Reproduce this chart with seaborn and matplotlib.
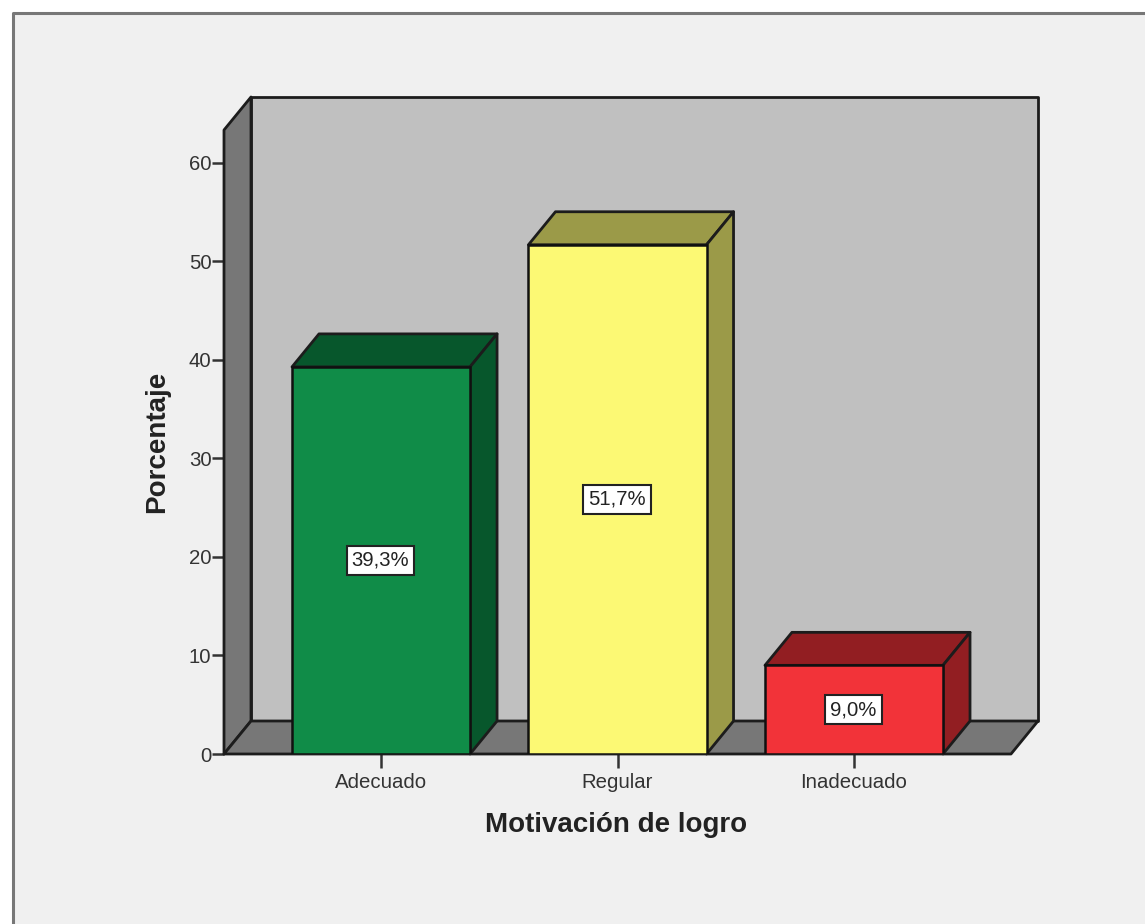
import pandas as pd
import matplotlib.pyplot as plt
import seaborn as sns
from matplotlib.patches import Polygon, Rectangle

# datos
categorias = ["Adecuado", "Regular", "Inadecuado"]
porcentajes = [39.3, 51.7, 9.0]
etiquetas = ["39,3%", "51,7%", "9,0%"]
colores = ["#108c48", "#fcf974", "#f23339"]
colores_lado = ["#07572c", "#9b9a48", "#921e22"]
yticks = [0, 10, 20, 30, 40, 50, 60]

W, H = 1145, 924
LEFT, RIGHT, BOTTOM, TOP = 224, 1011, 754, 130   # plano frontal en pixeles
DX, DY = 27, 33   # profundidad 3D en pixeles
FONDO = "#f0f0f0"
LINEA = "#1c1c1c"

sns.set_theme(style="white")
plt.rcParams['font.family'] = ['Liberation Sans', 'DejaVu Sans']

fig = plt.figure(figsize=(W / 100, H / 100), dpi=100, facecolor="white")

# marco de la ventana
fig.add_artist(Rectangle((12.5 / W, 0), (W - 12.5) / W, 1 - 12.5 / H, transform=fig.transFigure,
                         facecolor=FONDO, edgecolor="none", zorder=-10))
fig.add_artist(plt.Line2D([12.5 / W, 12.5 / W, 1], [0, 1 - 12.5 / H, 1 - 12.5 / H],
                          color="#777777", lw=2.2, solid_joinstyle="round"))

ax = fig.add_axes([LEFT / W, 1 - BOTTOM / H, (RIGHT - LEFT) / W, (BOTTOM - TOP) / H])
ax.patch.set_alpha(0)

df = pd.DataFrame({"categoria": categorias, "porcentaje": porcentajes})
sns.barplot(data=df, x="categoria", y="porcentaje", hue="categoria", palette=colores,
            dodge=False, legend=False, width=0.753, saturation=1,
            edgecolor="#101010", linewidth=1.8, zorder=5, ax=ax)

ax.set_xlim(-0.664, 2.664)
ax.set_ylim(0, 63.35)
px_x = (RIGHT - LEFT) / (ax.get_xlim()[1] - ax.get_xlim()[0])
px_y = (BOTTOM - TOP) / ax.get_ylim()[1]
dx, dy = DX / px_x, DY / px_y
x0, x1 = ax.get_xlim()
y0, y1 = ax.get_ylim()


def cara(puntos, color, z):
    ax.add_patch(Polygon(puntos, closed=True, facecolor=color, edgecolor=LINEA, linewidth=2.0,
                         joinstyle="round", clip_on=False, zorder=z))


# paredes y suelo
cara([(x0 + dx, y0 + dy), (x1 + dx, y0 + dy), (x1 + dx, y1 + dy), (x0 + dx, y1 + dy)], "#c0c0c0", 1)
cara([(x0, y0), (x0 + dx, y0 + dy), (x0 + dx, y1 + dy), (x0, y1)], "#777777", 2)
cara([(x0, y0), (x1, y0), (x1 + dx, y0 + dy), (x0 + dx, y0 + dy)], "#777777", 2)

# caras superior y lateral de las barras
for barra, c_lado, texto in zip(ax.patches, colores_lado, etiquetas):
    a = barra.get_x()
    b = a + barra.get_width()
    h = barra.get_height()
    cara([(a, h), (b, h), (b + dx, h + dy), (a + dx, h + dy)], c_lado, 4)
    cara([(b, 0), (b + dx, dy), (b + dx, h + dy), (b, h)], c_lado, 4)
    ax.text((a + b) / 2 - 0.002, h / 2, texto, ha="center", va="center", fontsize=14.6, color="#222222", zorder=6,
            bbox=dict(boxstyle="square,pad=0.25", facecolor="white", edgecolor="#222222", linewidth=1.5))

for s in ax.spines.values():
    s.set_visible(False)

ax.set_yticks(yticks)
ax.set_xticks(range(len(categorias)))
ax.set_xticklabels(categorias)
ax.tick_params(axis="both", which="major", left=True, bottom=True, length=8.6, width=1.8, color="#333333",
               labelsize=14.7, labelcolor="#333333", pad=0.5)
ax.tick_params(axis="x", length=10, pad=3.5)

ax.set_xlabel("")
ax.set_ylabel("")
fig.text(616 / W, 1 - 825 / H, "Motivación de logro", ha="center", va="center",
         fontsize=20, fontweight="bold", color="#222222")
fig.text(157 / W, 1 - 442 / H, "Porcentaje", ha="center", va="center", rotation=90,
         fontsize=20, fontweight="bold", color="#222222")

fig.savefig("out.png", dpi=100, facecolor=fig.get_facecolor())
